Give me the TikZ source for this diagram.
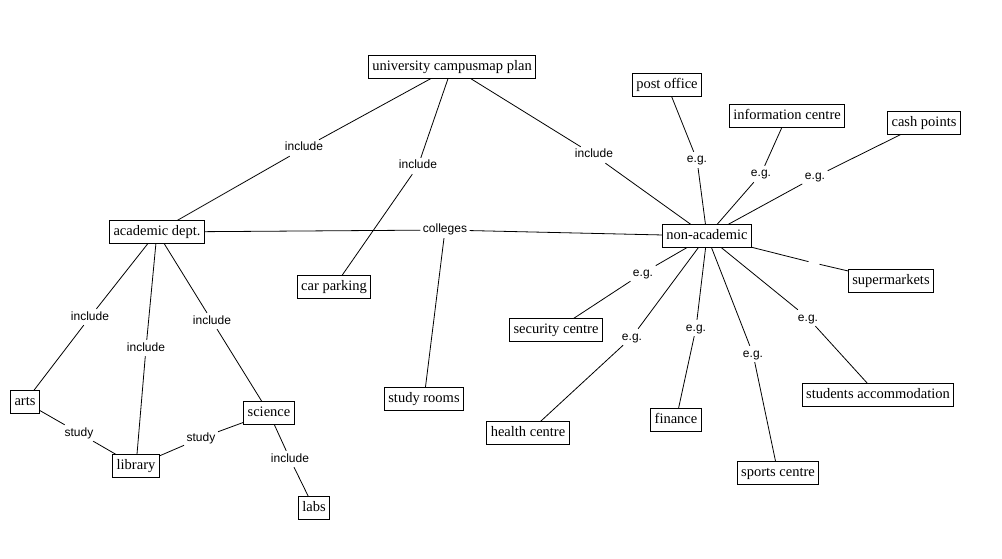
\documentclass[tikz,border=0pt]{standalone}
\usepackage{fontspec}
\setmainfont{Liberation Serif}
\setsansfont{Liberation Sans}
\tikzset{
 concept/.style={draw=black, line width=0.8pt, fill=white, font=\fontsize{14.5}{16}\selectfont, inner xsep=4pt, inner ysep=4.5pt, text height=10.5pt, text depth=3pt},
 lnk/.style={font=\sffamily\fontsize{12}{14}\selectfont, inner sep=2.5pt, text height=8.5pt, text depth=2.5pt},
 gap/.style={circle, inner sep=0pt, minimum size=11pt},
 conn/.style={draw=black, line width=0.8pt}
}
\begin{document}
\begin{tikzpicture}[x=1pt,y=-1pt]
\fill[white] (0,0) rectangle (1002,559);
\useasboundingbox (0,0) rectangle (1002,559);
% concepts
\node[concept] (univ) at (452,67) {university campusmap plan};
\node[concept] (acad) at (157,232) {academic dept.};
\node[concept] (arts) at (25,402) {arts};
\node[concept] (lib) at (136,466) {library};
\node[concept] (sci) at (269,413) {science};
\node[concept] (labs) at (314,508) {labs};
\node[concept] (car) at (334,287) {car parking};
\node[concept] (study) at (424,399) {study rooms};
\node[concept] (sec) at (556,330) {security centre};
\node[concept] (health) at (528,433) {health centre};
\node[concept] (nonac) at (707,236) {non-academic};
\node[concept] (super) at (891,281) {supermarkets};
\node[concept] (stud) at (878,395) {students accommodation};
\node[concept] (fin) at (676,420) {finance};
\node[concept] (sport) at (778,473) {sports centre};
\node[concept] (post) at (667,85) {post office};
\node[concept] (info) at (787,116) {information centre};
\node[concept] (cash) at (924,123) {cash points};
% link labels
\node[lnk] (l1) at (304,148) {include};
\node[lnk] (l2) at (418,166) {include};
\node[lnk] (l3) at (594,155) {include};
\node[lnk] (l4) at (445,230) {colleges};
\node[lnk] (l5) at (90,317) {include};
\node[lnk] (l6) at (146,348) {include};
\node[lnk] (l7) at (212,321) {include};
\node[lnk] (l8) at (79,433) {study};
\node[lnk] (l9) at (201,438) {study};
\node[lnk] (l10) at (290,459) {include};
\node[lnk] (l11) at (697,160) {e.g.};
\node[lnk] (l12) at (761,174) {e.g.};
\node[lnk] (l13) at (815,177) {e.g.};
\node[lnk] (l14) at (643,273) {e.g.};
\node[lnk] (l15) at (632,337) {e.g.};
\node[lnk] (l16) at (696,328) {e.g.};
\node[lnk] (l17) at (753,354) {e.g.};
\node[lnk] (l18) at (808,318) {e.g.};
\node[gap] (l19) at (814,263) {};
% connectors
\draw[conn] (univ) -- (l1) -- (acad);
\draw[conn] (univ) -- (l2) -- (car);
\draw[conn] (univ) -- (l3) -- (nonac);
\draw[conn] (acad) -- (l4) -- (nonac);
\draw[conn] (l4) -- (study);
\draw[conn] (acad) -- (l5) -- (arts);
\draw[conn] (acad) -- (l6) -- (lib);
\draw[conn] (acad) -- (l7) -- (sci);
\draw[conn] (arts) -- (l8) -- (lib);
\draw[conn] (sci) -- (l9) -- (lib);
\draw[conn] (sci) -- (l10) -- (labs);
\draw[conn] (nonac) -- (l11) -- (post);
\draw[conn] (nonac) -- (l12) -- (info);
\draw[conn] (nonac) -- (l13) -- (cash);
\draw[conn] (nonac) -- (l14) -- (sec);
\draw[conn] (nonac) -- (l15) -- (health);
\draw[conn] (nonac) -- (l16) -- (fin);
\draw[conn] (nonac) -- (l17) -- (sport);
\draw[conn] (nonac) -- (l18) -- (stud);
\draw[conn] (nonac) -- (l19) -- (super);
\end{tikzpicture}
\end{document}
